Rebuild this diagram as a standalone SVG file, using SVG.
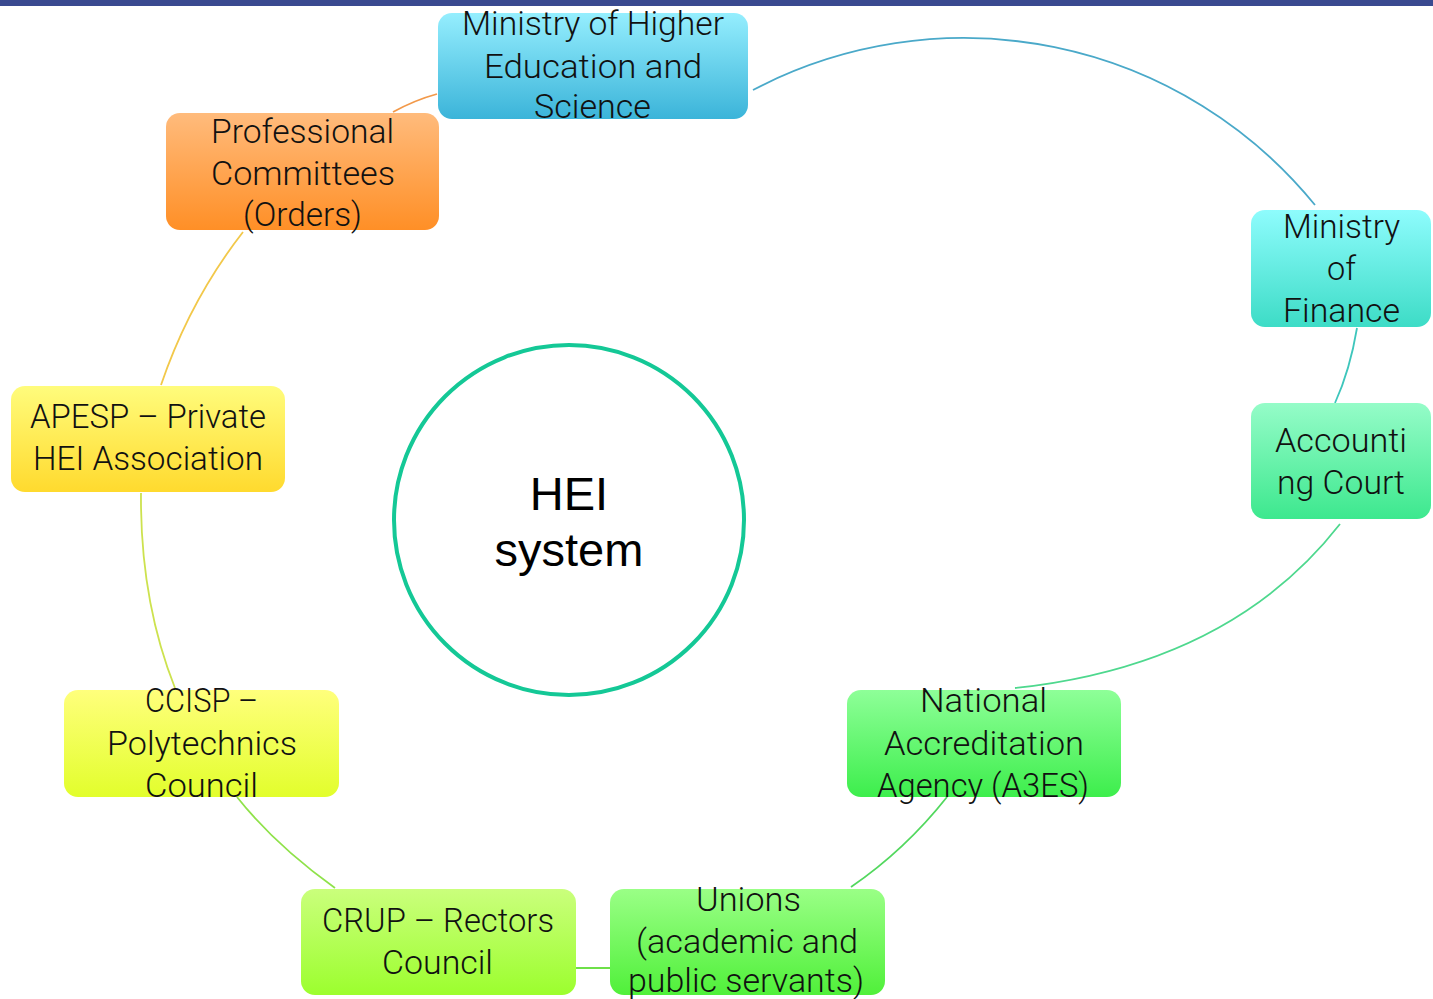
<svg xmlns="http://www.w3.org/2000/svg" width="1433" height="999" viewBox="0 0 1433 999">
<defs>
<linearGradient id="gMHES" x1="0" y1="0" x2="0" y2="1"><stop offset="0" stop-color="#95eefe"/><stop offset="1" stop-color="#3bb4d9"/></linearGradient>
<linearGradient id="gProf" x1="0" y1="0" x2="0" y2="1"><stop offset="0" stop-color="#ffbb7c"/><stop offset="1" stop-color="#ff8f26"/></linearGradient>
<linearGradient id="gMoF" x1="0" y1="0" x2="0" y2="1"><stop offset="0" stop-color="#8efcfd"/><stop offset="1" stop-color="#3ddcc6"/></linearGradient>
<linearGradient id="gAC" x1="0" y1="0" x2="0" y2="1"><stop offset="0" stop-color="#95fcc8"/><stop offset="1" stop-color="#3de88e"/></linearGradient>
<linearGradient id="gNat" x1="0" y1="0" x2="0" y2="1"><stop offset="0" stop-color="#8eff98"/><stop offset="1" stop-color="#3dee4c"/></linearGradient>
<linearGradient id="gUni" x1="0" y1="0" x2="0" y2="1"><stop offset="0" stop-color="#9aff86"/><stop offset="1" stop-color="#50f03a"/></linearGradient>
<linearGradient id="gCRUP" x1="0" y1="0" x2="0" y2="1"><stop offset="0" stop-color="#caff7c"/><stop offset="1" stop-color="#9cfe2e"/></linearGradient>
<linearGradient id="gCCISP" x1="0" y1="0" x2="0" y2="1"><stop offset="0" stop-color="#ffff7c"/><stop offset="1" stop-color="#e2fe2c"/></linearGradient>
<linearGradient id="gAPESP" x1="0" y1="0" x2="0" y2="1"><stop offset="0" stop-color="#fffc7c"/><stop offset="1" stop-color="#ffda2e"/></linearGradient>
</defs>
<style>
.box{rx:14px;ry:14px;}
.t{font-family:Roboto,"Liberation Sans",Arial,sans-serif;font-weight:300;font-size:34px;fill:#111;}
.c{fill:none;stroke-width:1.8;}
.hei{font-family:"Liberation Sans",Arial,sans-serif;font-size:47px;fill:#000;text-anchor:middle;}
</style>
<rect x="0" y="0" width="1433" height="6" fill="#3a4a90"/>
<g id="connectors">
<path class="c" stroke="#4aa9c9" d="M753,90 A453,453 0 0 1 1315,205"/>
<path class="c" stroke="#3ec6bc" d="M1357,328 Q1350,370 1335,403"/>
<path class="c" stroke="#4ed88e" d="M1340,524 Q1230,665 1015,688"/>
<path class="c" stroke="#52d85e" d="M947,797 Q905,850 851,887"/>
<path class="c" stroke="#6ee048" d="M610,968 L576,968"/>
<path class="c" stroke="#8fe24a" d="M335,888 Q275,845 237,797"/>
<path class="c" stroke="#cde24e" d="M175,688 Q140,600 141,493"/>
<path class="c" stroke="#f2c84a" d="M161,385 Q190,300 243,232"/>
<path class="c" stroke="#f2994a" d="M393,112 Q415,100 437,94"/>
</g>
<g id="hei">
<circle cx="569" cy="520" r="175" fill="#fff" stroke="#14c896" stroke-width="4"/>
<text class="hei" x="569" y="510">HEI</text>
<text class="hei" x="569" y="566">system</text>
</g>
<g id="mhes">
<rect class="box" x="438" y="13" width="310" height="106" fill="url(#gMHES)"/>
<text class="t" x="462" y="35" textLength="262" lengthAdjust="spacingAndGlyphs">Ministry of Higher</text>
<text class="t" x="484" y="78" textLength="218" lengthAdjust="spacingAndGlyphs">Education and</text>
<text class="t" x="534" y="118" textLength="117" lengthAdjust="spacingAndGlyphs">Science</text>
</g>
<g id="prof">
<rect class="box" x="166" y="113" width="273" height="117" fill="url(#gProf)"/>
<text class="t" x="211" y="143" textLength="183" lengthAdjust="spacingAndGlyphs">Professional</text>
<text class="t" x="211" y="185" textLength="184" lengthAdjust="spacingAndGlyphs">Committees</text>
<text class="t" x="243" y="226" textLength="119" lengthAdjust="spacingAndGlyphs">(Orders)</text>
</g>
<g id="mof">
<rect class="box" x="1251" y="210" width="180" height="117" fill="url(#gMoF)"/>
<text class="t" x="1283" y="238" textLength="117" lengthAdjust="spacingAndGlyphs">Ministry</text>
<text class="t" x="1327" y="280" textLength="29" lengthAdjust="spacingAndGlyphs">of</text>
<text class="t" x="1283" y="322" textLength="117" lengthAdjust="spacingAndGlyphs">Finance</text>
</g>
<g id="ac">
<rect class="box" x="1251" y="403" width="180" height="116" fill="url(#gAC)"/>
<text class="t" x="1275" y="452" textLength="132" lengthAdjust="spacingAndGlyphs">Accounti</text>
<text class="t" x="1277" y="494" textLength="128" lengthAdjust="spacingAndGlyphs">ng Court</text>
</g>
<g id="apesp">
<rect class="box" x="11" y="386" width="274" height="106" fill="url(#gAPESP)"/>
<text class="t" x="30" y="428" textLength="236" lengthAdjust="spacingAndGlyphs">APESP – Private</text>
<text class="t" x="33" y="470" textLength="230" lengthAdjust="spacingAndGlyphs">HEI Association</text>
</g>
<g id="ccisp">
<rect class="box" x="64" y="690" width="275" height="107" fill="url(#gCCISP)"/>
<text class="t" x="145" y="712" textLength="113" lengthAdjust="spacingAndGlyphs">CCISP –</text>
<text class="t" x="107" y="755" textLength="190" lengthAdjust="spacingAndGlyphs">Polytechnics</text>
<text class="t" x="145" y="797" textLength="113" lengthAdjust="spacingAndGlyphs">Council</text>
</g>
<g id="crup">
<rect class="box" x="301" y="889" width="275" height="106" fill="url(#gCRUP)"/>
<text class="t" x="322" y="932" textLength="232" lengthAdjust="spacingAndGlyphs">CRUP – Rectors</text>
<text class="t" x="382" y="974" textLength="111" lengthAdjust="spacingAndGlyphs">Council</text>
</g>
<g id="unions">
<rect class="box" x="610" y="889" width="275" height="106" fill="url(#gUni)"/>
<text class="t" x="696" y="911" textLength="105" lengthAdjust="spacingAndGlyphs">Unions</text>
<text class="t" x="636" y="953" textLength="222" lengthAdjust="spacingAndGlyphs">(academic and</text>
<text class="t" x="628" y="992" textLength="236" lengthAdjust="spacingAndGlyphs">public servants)</text>
</g>
<g id="national">
<rect class="box" x="847" y="690" width="274" height="107" fill="url(#gNat)"/>
<text class="t" x="920" y="712" textLength="127" lengthAdjust="spacingAndGlyphs">National</text>
<text class="t" x="884" y="755" textLength="200" lengthAdjust="spacingAndGlyphs">Accreditation</text>
<text class="t" x="877" y="797" textLength="212" lengthAdjust="spacingAndGlyphs">Agency (A3ES)</text>
</g>
</svg>
